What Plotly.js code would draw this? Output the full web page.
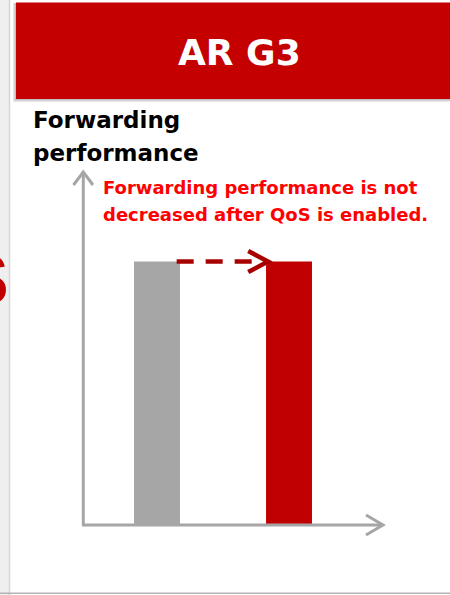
<!DOCTYPE html>
<html>
<head>
<meta charset="utf-8">
<script src="https://cdn.plot.ly/plotly-3.0.1.min.js"></script>
<style>html,body{margin:0;padding:0;background:#fff;}#chart{width:450px;height:595px;}</style>
</head>
<body>
<div id="chart"></div>
<script>
// ---- data ----
const categories = ["QoS disabled", "QoS enabled"];
const performance = [100, 100];
const barColors = ["#a6a6a6", "#c00000"];
const headerText = "AR G3";
const yTitleLines = ["Forwarding", "performance"];
const noteLines = ["Forwarding performance is not", "decreased after QoS is enabled."];

// ---- layout geometry ----
const W = 450, H = 595;
const M = {l: 83, r: 67, t: 172, b: 70};
const PW = W - M.l - M.r, PH = H - M.t - M.b;
const xRange = [-0.5606, 1.712];
const yRange = [0, 134];
const barWidth = 0.348;
const px = v => (v - M.l) / PW;          // pixel x -> paper
const py = v => (H - M.b - v) / PH;      // pixel y -> paper
const dx = v => (v - xRange[0]) / (xRange[1] - xRange[0]); // data x -> paper
const dy = v => (v - yRange[0]) / (yRange[1] - yRange[0]); // data y -> paper

const axisCol = "#a6a6a6";
const shapes = [
  // left page strip
  {type:"rect", xref:"paper", yref:"paper", x0:px(0), x1:px(9), y0:py(0), y1:py(H), fillcolor:"#efefef", line:{width:0}, layer:"below"},
  {type:"line", xref:"paper", yref:"paper", x0:px(9.5), x1:px(9.5), y0:py(0), y1:py(H), line:{color:"#d6d6d6", width:1.5}, layer:"below"},
  // bottom line
  {type:"line", xref:"paper", yref:"paper", x0:px(0), x1:px(W), y0:py(593.3), y1:py(593.3), line:{color:"#b4b4b4", width:1.5}},
  // header shadow + header
  {type:"rect", xref:"paper", yref:"paper", x0:px(13), x1:px(W), y0:py(3), y1:py(102), fillcolor:"rgba(0,0,0,0.10)", line:{width:0}},
  {type:"rect", xref:"paper", yref:"paper", x0:px(14.5), x1:px(W), y0:py(3), y1:py(100.5), fillcolor:"rgba(0,0,0,0.16)", line:{width:0}},
  {type:"rect", xref:"paper", yref:"paper", x0:px(16), x1:px(W), y0:py(2.5), y1:py(99), fillcolor:"#c40000", line:{width:0}},
  // y axis with open arrowhead
  {type:"path", xref:"paper", yref:"paper",
   path:`M ${px(83.3)} ${py(525)} L ${px(83.3)} ${py(172)}`, line:{color:axisCol, width:3}},
  {type:"path", xref:"paper", yref:"paper",
   path:`M ${px(73.5)} ${py(185)} L ${px(83.3)} ${py(172)} L ${px(93)} ${py(185)}`, line:{color:axisCol, width:3}},
  // x axis with open arrowhead
  {type:"path", xref:"paper", yref:"paper",
   path:`M ${px(82)} ${py(525)} L ${px(383)} ${py(525)}`, line:{color:axisCol, width:3}},
  {type:"path", xref:"paper", yref:"paper",
   path:`M ${px(366)} ${py(515)} L ${px(383)} ${py(525)} L ${px(366)} ${py(535)}`, line:{color:axisCol, width:3}},
];

// dashed comparison arrow between bar tops
const arrowY = performance[0];
const ax0 = 0 + barWidth / 2 - 0.025, ax1 = 1 - barWidth / 2 + 0.015;
shapes.push({type:"line", xref:"paper", yref:"paper", x0:dx(ax0), x1:dx(ax1 - 0.06), y0:dy(arrowY), y1:dy(arrowY),
  line:{color:"#a80000", width:4.5, dash:"17px,12px"}});
shapes.push({type:"path", xref:"paper", yref:"paper",
  path:`M ${dx(ax1 - 0.15)} ${dy(arrowY + 4)} L ${dx(ax1)} ${dy(arrowY)} L ${dx(ax1 - 0.15)} ${dy(arrowY - 4)}`,
  line:{color:"#a80000", width:4.5}});

const font = "DejaVu Sans, Arial, sans-serif";
const annotations = [
  {text:"<b>" + headerText + "</b>", xref:"paper", yref:"paper", x:px(239), y:py(52), xanchor:"center", yanchor:"middle",
   showarrow:false, font:{family:font, size:36, color:"#ffffff"}},
  {text:"<b>" + yTitleLines[0] + "</b>", xref:"paper", yref:"paper", x:px(31), y:py(105), xanchor:"left", yanchor:"top", align:"left",
   showarrow:false, font:{family:font, size:23, color:"#000000"}},
  {text:"<b>" + yTitleLines[1] + "</b>", xref:"paper", yref:"paper", x:px(31), y:py(137.5), xanchor:"left", yanchor:"top", align:"left",
   showarrow:false, font:{family:font, size:23, color:"#000000"}},
  {text:"<b>" + noteLines[0] + "</b>", xref:"paper", yref:"paper", x:px(101), y:py(175), xanchor:"left", yanchor:"top", align:"left",
   showarrow:false, font:{family:font, size:18, color:"#ff0000"}},
  {text:"<b>" + noteLines[1] + "</b>", xref:"paper", yref:"paper", x:px(101), y:py(201.5), xanchor:"left", yanchor:"top", align:"left",
   showarrow:false, font:{family:font, size:18, color:"#ff0000"}},
  {text:"<b>S</b>", xref:"paper", yref:"paper", x:px(11), y:py(280), xanchor:"right", yanchor:"middle",
   showarrow:false, font:{family:"Liberation Sans, Arial, sans-serif", size:70, color:"#c00000"}},
];

const trace = {
  type:"bar", x:categories, y:performance, width:barWidth,
  marker:{color:barColors, line:{width:0}}, hoverinfo:"x+y"
};

const layout = {
  width:W, height:H, margin:M, showlegend:false,
  paper_bgcolor:"#ffffff", plot_bgcolor:"rgba(0,0,0,0)",
  xaxis:{type:"category", range:xRange, showline:false, showgrid:false, zeroline:false, showticklabels:false, ticks:"", fixedrange:true},
  yaxis:{range:yRange, showline:false, showgrid:false, zeroline:false, showticklabels:false, ticks:"", fixedrange:true},
  shapes:shapes, annotations:annotations
};

Plotly.newPlot("chart", [trace], layout, {displayModeBar:false, staticPlot:true});
</script>
</body>
</html>
